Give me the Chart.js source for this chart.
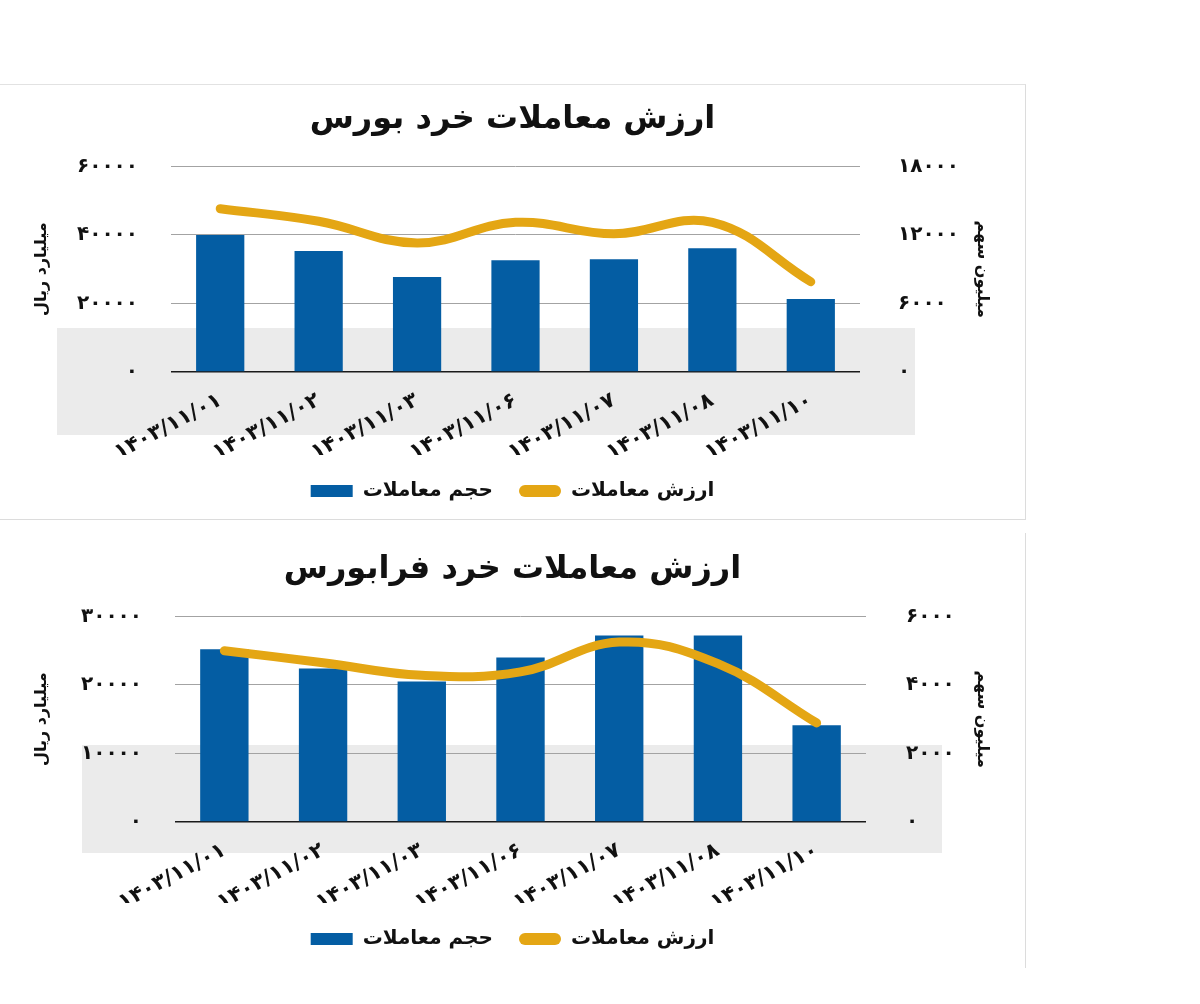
<!DOCTYPE html>
<html lang="fa">
<head>
<meta charset="utf-8">
<script src="https://cdn.jsdelivr.net/npm/chart.js@4.4.1/dist/chart.umd.min.js"></script>
<style>
  html, body { margin: 0; padding: 0; background: #ffffff; }
  body { width: 1200px; height: 1004px; position: relative; overflow: hidden; }
  .band { position: absolute; background: #ebebeb; }
  .panel { position: absolute; box-sizing: border-box; }
  canvas { position: absolute; }
</style>
</head>
<body>
<div class="band" style="left:57px; top:328px; width:858px; height:107px;"></div>
<div class="band" style="left:82px; top:745px; width:860px; height:108px;"></div>
<div class="panel" style="left:0; top:84px; width:1026px; height:436px; border-top:1px solid #e2e2e2; border-right:1px solid #dcdcdc; border-bottom:1px solid #dcdcdc;"></div>
<div class="panel" style="left:0; top:533px; width:1026px; height:435px; border-right:1px solid #dcdcdc;"></div>
<div style="position:absolute; left:0; top:85px; width:1025px; height:433px;"><canvas id="c1"></canvas></div>
<div style="position:absolute; left:0; top:533px; width:1025px; height:435px;"><canvas id="c2"></canvas></div>
<script>
// ---- data ----
const categories = ['1403/11/01', '1403/11/02', '1403/11/03', '1403/11/06', '1403/11/07', '1403/11/08', '1403/11/10'];
const seriesNames = ['حجم معاملات', 'ارزش معاملات'];
const titles = ['ارزش معاملات خرد بورس', 'ارزش معاملات خرد فرابورس'];
const leftAxisTitle = 'میلیارد ریال';
const rightAxisTitle = 'میلیون سهم';

const bourseVolume = [40000, 35300, 27700, 32600, 32900, 36100, 21300];
const bourseValue = [14300, 13200, 11300, 13100, 12100, 13100, 7900];
const farabourseVolume = [25200, 22400, 20500, 24000, 27200, 27200, 14100];
const farabourseValue = [5000, 4650, 4280, 4380, 5250, 4620, 2890];

const bourseLeftTicks = [0, 20000, 40000, 60000];
const bourseRightTicks = [0, 6000, 12000, 18000];
const farabourseLeftTicks = [0, 10000, 20000, 30000];
const farabourseRightTicks = [0, 2000, 4000, 6000];

// ---- helpers ----
const FA = '۰۱۲۳۴۵۶۷۸۹';
const fa = s => String(s).replace(/\d/g, d => FA[d]);
const FONT = "'DejaVu Sans', sans-serif";
const BLUE = '#045da3';
const GOLD = '#e4a614';

function makeChart(id, volume, value, leftTicks, rightTicks, title, geo) {
  const canvas = document.getElementById(id);
  canvas.width = geo.w; canvas.height = geo.h;
  canvas.style.width = geo.w + 'px'; canvas.style.height = geo.h + 'px';
  return new Chart(canvas, {
    data: {
      labels: categories.map(fa),
      datasets: [
        {
          type: 'bar', label: seriesNames[0], data: volume, yAxisID: 'yL',
          backgroundColor: BLUE, borderWidth: 0,
          barPercentage: 0.49, categoryPercentage: 1.0, order: 2
        },
        {
          type: 'line', label: seriesNames[1], data: value, yAxisID: 'yR',
          borderColor: GOLD, backgroundColor: GOLD, borderWidth: 9,
          borderCapStyle: 'round', borderJoinStyle: 'round',
          tension: 0.4, pointRadius: 0, pointHoverRadius: 0, fill: false, order: 1
        }
      ]
    },
    options: {
      responsive: false, animation: false, devicePixelRatio: 1,
      layout: { padding: { left: 0, right: 0, top: 0, bottom: geo.lpb } },
      plugins: {
        tooltip: { enabled: false },
        title: {
          display: true, text: title, color: '#111',
          font: { family: FONT, size: 32, weight: 'bold' },
          padding: { top: geo.titleTop, bottom: geo.titleBottom }
        },
        legend: {
          position: 'bottom',
          labels: {
            color: '#111', font: { family: FONT, size: 20, weight: 'bold' },
            boxWidth: 42, boxHeight: 12, padding: 26, useBorderRadius: true,
            generateLabels(chart) {
              const items = Chart.defaults.plugins.legend.labels.generateLabels(chart);
              items.sort((a, b) => a.datasetIndex - b.datasetIndex);
              items.forEach(it => {
                it.lineWidth = 0;
                if (it.datasetIndex === 1) { it.fillStyle = GOLD; it.borderRadius = 6; }
                else { it.fillStyle = BLUE; it.borderRadius = 0; }
              });
              return items;
            }
          }
        }
      },
      scales: {
        x: {
          grid: { display: false, drawTicks: false }, border: { display: false },
          ticks: {
            color: '#111', font: { family: FONT, size: 21, weight: 'bold' },
            minRotation: 28, maxRotation: 28, autoSkip: false, padding: 16
          },
          afterFit(s) { s.height = geo.xH; }
        },
        yL: {
          position: 'left', min: 0, max: leftTicks[leftTicks.length - 1],
          afterBuildTicks(s) { s.ticks = leftTicks.map(v => ({ value: v })); },
          grid: {
            drawTicks: false, lineWidth: c => (c.tick && c.tick.value === 0 ? 1.5 : 1),
            color: c => (c.tick && c.tick.value === 0 ? '#1a1a1a' : '#a3a3a3')
          },
          border: { display: false },
          ticks: { color: '#111', font: { family: FONT, size: 20, weight: 'bold' }, padding: geo.lPad, callback: v => fa(v) },
          title: { display: true, text: leftAxisTitle, color: '#111', font: { family: FONT, size: 16, weight: 'bold' }, padding: { top: 32, bottom: 0 } },
          afterFit(s) { s.width = geo.left; }
        },
        yR: {
          position: 'right', min: 0, max: rightTicks[rightTicks.length - 1],
          afterBuildTicks(s) { s.ticks = rightTicks.map(v => ({ value: v })); },
          grid: { display: false, drawTicks: false }, border: { display: false },
          ticks: { color: '#111', font: { family: FONT, size: 20, weight: 'bold' }, padding: geo.rPad, callback: v => fa(v) },
          title: { display: true, text: rightAxisTitle, color: '#111', font: { family: FONT, size: 16, weight: 'bold' }, padding: { top: 33, bottom: 0 } },
          afterFit(s) { s.width = geo.w - geo.right; }
        }
      }
    }
  });
}

makeChart('c1', bourseVolume, bourseValue, bourseLeftTicks, bourseRightTicks, titles[0],
  { w: 1025, h: 433, left: 171, right: 860, titleTop: 15, titleBottom: 28, lpb: 7, xH: 83, lPad: 33, rPad: 38 });
makeChart('c2', farabourseVolume, farabourseValue, farabourseLeftTicks, farabourseRightTicks, titles[1],
  { w: 1025, h: 435, left: 175, right: 866, titleTop: 17, titleBottom: 28, lpb: 9, xH: 81, lPad: 33, rPad: 40 });
</script>
</body>
</html>
